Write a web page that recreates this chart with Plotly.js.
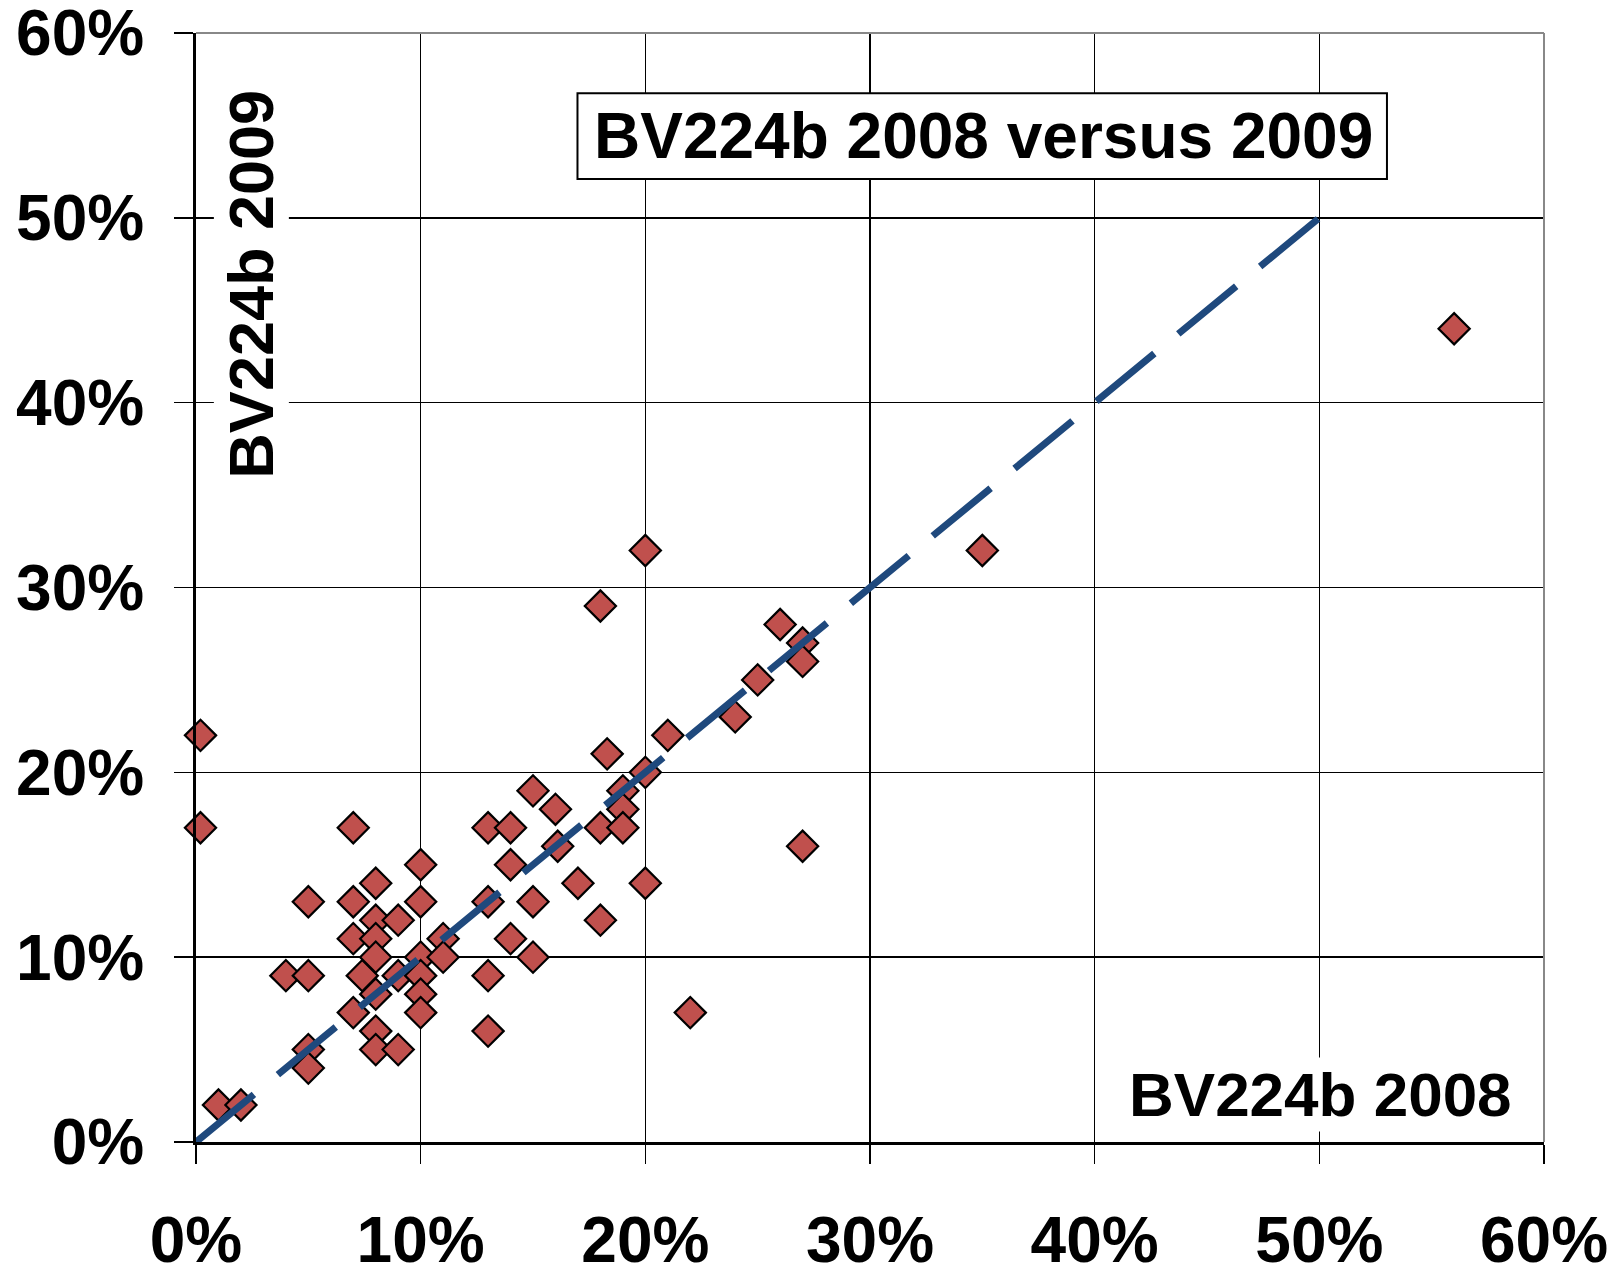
<!DOCTYPE html>
<html>
<head>
<meta charset="utf-8">
<script src="https://cdn.plot.ly/plotly-3.0.1.min.js"></script>
<style>
  html, body { margin: 0; padding: 0; background: #ffffff; }
  #chart { width: 1621px; height: 1268px; }
</style>
</head>
<body>
<div id="chart"></div>
<script>
// BV224b 2008 (x, %) versus BV224b 2009 (y, %)
const bv2008 = [0.2, 0.2, 1, 2, 4, 5, 5, 5, 5, 7, 7, 7, 7.4, 7, 8, 8, 8, 8, 8, 8, 8, 9, 9, 9,
                10, 10, 10, 10, 10, 10, 11, 11, 13, 13, 13, 13, 14, 14, 14, 15, 15, 15, 16, 16.1,
                17, 18, 18.3, 18, 18, 19, 19, 19, 20, 20, 20, 21, 22, 24, 25, 26, 27, 27, 27, 35, 56];
const bv2009 = [22, 17, 2, 2, 9, 9, 13, 5, 4, 17, 13, 11, 9, 7, 14, 12, 11, 10, 8, 6, 5, 12, 9, 5,
                15, 13, 10, 9, 8, 7, 11, 10, 17, 13, 9, 6, 17, 15, 11, 19, 13, 10, 18, 16,
                14, 29, 21, 17, 12, 19, 18, 17, 32, 20, 14, 22, 7, 23, 25, 28, 27, 26, 16, 32, 44];
// reference line y = x
const refX = [0, 50];
const refY = [0, 50];
const tickVals = [0, 10, 20, 30, 40, 50, 60];
const tickText = ['0%', '10%', '20%', '30%', '40%', '50%', '60%'];

const titleText = 'BV224b 2008 versus 2009';
const xLabel = 'BV224b 2008';
const yLabel = 'BV224b 2009';

const FONT = '"Liberation Sans", Arial, sans-serif';

const traces = [
  {
    type: 'scatter', mode: 'markers', x: bv2008, y: bv2009,
    marker: { symbol: 'diamond', size: 24, color: '#C0504D', line: { color: '#000000', width: 2.2 } },
    showlegend: false, cliponaxis: false
  },
  {
    type: 'scatter', mode: 'lines', x: refX, y: refY,
    line: { color: '#1F497D', width: 7, dash: '75px,31px' },
    showlegend: false
  }
];

const axisCommon = {
  range: [0, 60],
  tickvals: tickVals, ticktext: tickText,
  showgrid: true, gridcolor: '#000000', gridwidth: 1.5,
  zeroline: false,
  showline: true, linecolor: '#000000', linewidth: 3,
  ticks: 'outside', ticklen: 19, tickwidth: 1.5, tickcolor: '#000000',
  tickfont: { family: FONT, size: 64, color: '#000000', weight: 'bold' },
  ticklabeloverflow: 'allow',
  fixedrange: true
};

const layout = {
  width: 1621, height: 1268,
  margin: { l: 196, r: 77, t: 33, b: 126 },
  paper_bgcolor: '#ffffff', plot_bgcolor: '#ffffff',
  showlegend: false,
  xaxis: Object.assign({}, axisCommon, { ticklabelstandoff: 21 }),
  yaxis: Object.assign({}, axisCommon, { ticklabelstandoff: 17 }),
  shapes: [
    { type: 'line', xref: 'paper', yref: 'paper', x0: 0, x1: 1, y0: 1, y1: 1, line: { color: '#888888', width: 2 } },
    { type: 'line', xref: 'paper', yref: 'paper', x0: 1, x1: 1, y0: 0, y1: 1, line: { color: '#888888', width: 2 } },
    { type: 'rect', xref: 'paper', yref: 'paper', x0: 0.283, x1: 0.8835, y0: 0.8684, y1: 0.9456,
      fillcolor: '#ffffff', line: { color: '#000000', width: 2 }, layer: 'above' }
  ],
  annotations: [
    { xref: 'paper', yref: 'paper', x: 0.5842, y: 0.907, text: titleText, showarrow: false,
      xanchor: 'center', yanchor: 'middle',
      font: { family: FONT, size: 64, color: '#000000', weight: 'bold' } },
    { xref: 'paper', yref: 'paper', x: 0.0408, y: 0.774, text: yLabel, showarrow: false, textangle: -90,
      xanchor: 'center', yanchor: 'middle', bgcolor: '#ffffff', borderpad: 2,
      font: { family: FONT, size: 63, color: '#000000', weight: 'bold' } },
    { xref: 'paper', yref: 'paper', x: 0.834, y: 0.0424, text: xLabel, showarrow: false,
      xanchor: 'center', yanchor: 'middle', bgcolor: '#ffffff', borderpad: 2,
      font: { family: FONT, size: 62, color: '#000000', weight: 'bold' } }
  ]
};

Plotly.newPlot('chart', traces, layout, { displayModeBar: false, staticPlot: true });
</script>
</body>
</html>
